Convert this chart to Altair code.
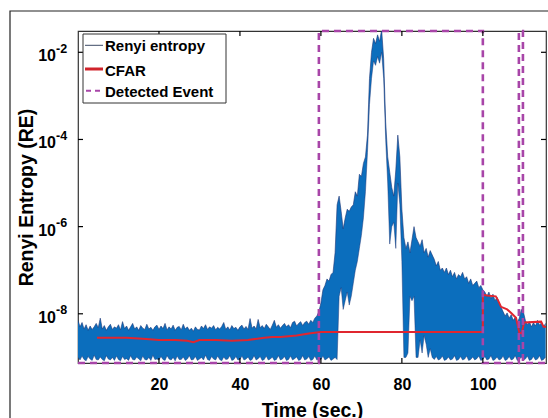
import altair as alt
import pandas as pd
import numpy as np

FONT = "Liberation Sans"

# ---------------- data ----------------
# Renyi entropy signal, sampled every 0.5 s: upper and lower envelope (log10 of RE)
upper_0_20 = [-8.15,-8.30,-8.20,-8.35,-8.25,-8.38,-8.28,-8.36,-8.30,-8.22,
              -8.32,-8.10,-8.35,-8.27,-8.38,-8.30,-8.24,-8.36,-8.30,-8.33,
              -8.25,-8.37,-8.18,-8.34,-8.28,-8.38,-8.30,-8.22,-8.35,-8.30,
              -8.38,-8.27,-8.33,-8.36,-8.24,-8.35,-8.31,-8.38,-8.30,-8.26]
upper_20_40 = [-8.36,-8.28,-8.34,-8.22,-8.37,-8.30,-8.35,-8.26,-8.38,-8.31,
               -8.29,-8.37,-8.24,-8.35,-8.30,-8.38,-8.33,-8.40,-8.30,-8.36,
               -8.37,-8.28,-8.34,-8.25,-8.36,-8.30,-8.33,-8.27,-8.37,-8.31,
               -8.35,-8.29,-8.20,-8.36,-8.30,-8.37,-8.27,-8.34,-8.31,-8.38]
upper_40_60 = [-8.30,-8.26,-8.35,-8.29,-8.36,-8.11,-8.33,-8.28,-8.35,-8.13,
               -8.32,-8.27,-8.34,-8.24,-8.30,-8.36,-8.26,-8.15,-8.31,-8.25,
               -8.33,-8.27,-8.22,-8.30,-8.25,-8.32,-8.20,-8.17,-8.28,-8.22,
               -8.18,-8.27,-8.20,-8.17,-8.24,-8.15,-8.20,-8.10,-8.05,-7.95]
upper_60_80 = [-7.75,-7.45,-7.35,-7.20,-7.25,-7.10,-7.05,-6.60,-5.50,-5.30,
               -5.65,-6.05,-5.80,-5.60,-5.65,-5.55,-5.50,-5.20,-5.30,-4.80,
               -4.85,-4.55,-4.40,-3.90,-2.60,-2.00,-1.68,-1.80,-1.60,-1.75,
               -1.48,-2.15,-3.60,-4.40,-4.75,-5.10,-5.30,-4.70,-3.90,-4.40]
upper_80_100 = [-5.60,-6.25,-6.50,-6.35,-6.60,-6.30,-6.00,-6.25,-6.35,-6.45,
                -6.30,-6.60,-6.50,-6.70,-6.55,-6.65,-6.75,-6.90,-6.80,-7.00,
                -6.95,-7.05,-6.95,-7.10,-7.00,-7.15,-7.05,-7.20,-7.10,-7.15,
                -7.05,-7.20,-7.15,-7.30,-7.20,-7.35,-7.30,-7.25,-7.40,-7.35]
upper_100_116 = [-7.45,-7.50,-7.60,-7.50,-7.65,-7.55,-7.70,-7.62,-7.75,-7.85,
                 -7.95,-8.05,-7.98,-8.10,-8.02,-8.15,-8.08,-8.20,-8.10,-7.90,
                 -7.95,-8.15,-8.25,-8.18,-8.30,-8.20,-8.28,-8.15,-8.26,-8.20,
                 -8.30,-8.22]

lower_0_20 = [-9.00,-9.06,-8.97,-9.05,-9.08,-8.98,-9.04,-9.07,-8.95,-9.05,
              -9.06,-8.99,-9.05,-9.08,-8.96,-9.04,-9.06,-9.00,-9.07,-8.97,
              -9.05,-9.08,-8.98,-9.05,-9.03,-9.07,-8.96,-9.05,-9.06,-8.99,
              -9.04,-9.08,-8.97,-9.05,-9.06,-9.00,-9.07,-8.95,-9.05,-9.04]
lower_20_40 = [-9.06,-8.98,-9.05,-9.07,-8.96,-9.04,-9.06,-9.00,-9.08,-8.97,
               -9.05,-9.05,-8.99,-9.07,-9.04,-8.96,-9.06,-9.05,-8.98,-9.07,
               -9.04,-9.00,-9.06,-8.95,-9.05,-9.07,-8.98,-9.04,-9.06,-8.97,
               -9.05,-9.08,-8.99,-9.05,-9.04,-8.96,-9.07,-9.05,-8.98,-9.06]
lower_40_60 = [-9.05,-8.97,-9.06,-9.04,-8.99,-9.07,-9.05,-8.96,-9.06,-9.03,
               -8.98,-9.07,-9.05,-8.97,-9.06,-9.04,-8.99,-9.07,-9.05,-8.96,
               -9.06,-9.04,-8.98,-9.07,-9.05,-8.97,-9.06,-9.03,-8.99,-9.07,
               -9.05,-8.96,-9.06,-9.04,-8.98,-9.07,-9.05,-8.97,-9.06,-9.04]
lower_60_80 = [-9.05,-8.97,-9.06,-9.03,-8.99,-9.07,-9.04,-9.00,-9.05,-7.60,
               -7.40,-7.90,-7.70,-7.50,-7.80,-7.60,-7.30,-7.00,-6.80,-6.50,
               -6.20,-5.80,-5.20,-4.30,-3.20,-2.60,-2.20,-2.30,-2.10,-2.25,
               -2.00,-2.60,-4.00,-5.00,-6.40,-6.00,-5.90,-6.50,-5.00,-5.50]
lower_80_100 = [-6.80,-9.00,-9.00,-8.90,-7.60,-7.70,-7.60,-9.00,-9.00,-8.60,
                -8.90,-8.50,-8.70,-9.00,-8.80,-9.00,-9.05,-8.98,-9.06,-9.04,
                -8.97,-9.07,-9.05,-8.99,-9.06,-9.04,-8.96,-9.07,-9.05,-8.98,
                -9.06,-9.04,-8.97,-9.07,-9.05,-8.99,-9.06,-9.03,-8.97,-9.07]
lower_100_116 = [-9.05,-8.98,-9.06,-9.04,-8.96,-9.07,-9.05,-8.99,-9.06,-9.04,
                 -8.97,-9.07,-9.05,-8.98,-9.06,-9.04,-8.96,-9.07,-9.05,-8.99,
                 -9.06,-9.04,-8.97,-9.07,-9.05,-8.98,-9.06,-9.04,-8.96,-9.07,
                 -9.05,-8.99]

# CFAR threshold (time in s, log10 of RE)
cfar_t = [4.7, 8, 12, 16, 20, 24, 27, 28.5, 30, 34, 38, 42, 46, 48, 50, 54, 57, 60,
          100, 100, 101, 103.2, 103.7, 104.5, 106, 107, 108.2, 109, 109.6, 110.2,
          114.4, 115, 115.6]
cfar_exp = [-8.55, -8.55, -8.55, -8.57, -8.60, -8.60, -8.62, -8.65, -8.60, -8.60,
            -8.62, -8.60, -8.55, -8.53, -8.53, -8.50, -8.45, -8.42,
            -8.42, -7.56, -7.58, -7.60, -7.68, -7.84, -7.90, -7.98, -8.09, -8.43,
            -8.45, -8.20, -8.18, -8.30, -8.30]

# Detected events (start, end in s)
event_start = [59.5, 108.9]
event_end = [100.0, 109.9]

x_ticks = [20, 40, 60, 80, 100]
y_tick_exp = [-8, -6, -4, -2]

X_MIN, X_MAX = 0.0, 115.6
Y_MIN, Y_MAX = 7.43e-10, 0.0308
W, H = 468, 332

# ---------------- tables ----------------
upper = upper_0_20 + upper_20_40 + upper_40_60 + upper_60_80 + upper_80_100 + upper_100_116
lower = lower_0_20 + lower_20_40 + lower_40_60 + lower_60_80 + lower_80_100 + lower_100_116
t_grid = [0.5 * i for i in range(len(upper))]
sig = pd.DataFrame({"t": t_grid,
                    "v": [10 ** u for u in upper],
                    "v2": [10 ** l for l in lower]})
cfar = pd.DataFrame({"t": cfar_t, "v": [10 ** e for e in cfar_exp],
                     "i": list(range(len(cfar_t)))})

ev_t, ev_v = [X_MIN], [Y_MIN]
for s, e in zip(event_start, event_end):
    ev_t += [s, s, e, e]
    ev_v += [Y_MIN, Y_MAX, Y_MAX, Y_MIN]
ev_t.append(X_MAX)
ev_v.append(Y_MIN)
events = pd.DataFrame({"t": ev_t, "v": ev_v, "i": list(range(len(ev_t)))})

xt = pd.DataFrame({"t": x_ticks})
yt = pd.DataFrame({"v": [10.0 ** e for e in y_tick_exp],
                   "sup": [str(e) for e in y_tick_exp]})
one = pd.DataFrame({"a": [0]})

# ---------------- scales / axes ----------------
xs = alt.Scale(domain=[X_MIN, X_MAX], nice=False, zero=False)
ys = alt.Scale(type="log", domain=[Y_MIN, Y_MAX], nice=False)
xaxis = alt.Axis(values=x_ticks, ticks=False, domain=False, grid=False,
                 labelFont=FONT, labelFontSize=16, labelFontWeight="bold",
                 labelColor="black", labelPadding=13,
                 title="Time (sec.)", titleFont=FONT, titleFontSize=19.5,
                 titleFontWeight="bold", titleColor="black",
                 titleY=38, titleBaseline="top")
yaxis = alt.Axis(labels=False, ticks=False, domain=False, grid=False,
                 title="Renyi Entropy (RE)", titleFont=FONT, titleFontSize=19.5,
                 titleFontWeight="bold", titleColor="black",
                 titleAngle=270, titleX=-52, titleY=H / 2,
                 titleBaseline="middle", titleAlign="center")
X = alt.X("t:Q", scale=xs, axis=xaxis)
Y = alt.Y("v:Q", scale=ys, axis=yaxis)

# ---------------- layers ----------------
frame = alt.Chart(one).mark_rect(fill="white", fillOpacity=0, stroke="#222",
                                 strokeWidth=1.2).encode(
    x=alt.value(-68), x2=alt.value(W + 40), y=alt.value(-20), y2=alt.value(H + 80))

band = alt.Chart(sig).mark_area(color="#0b6ebd", clip=True).encode(x=X, y=Y, y2="v2:Q")
edge_hi = alt.Chart(sig).mark_line(color="#1c3577", strokeWidth=0.8, opacity=0.75,
                                   clip=True).encode(x=X, y=Y)
edge_lo = alt.Chart(sig).mark_line(color="#1c3577", strokeWidth=0.8, opacity=0.6,
                                   clip=True).encode(x=X, y=alt.Y("v2:Q", scale=ys))

cfar_line = alt.Chart(cfar).mark_line(color="#e0262f", strokeWidth=2).encode(
    x=X, y=Y, order="i:Q")
ev_line = alt.Chart(events).mark_line(color="#a845a8", strokeWidth=2.6,
                                      strokeDash=[7, 5]).encode(x=X, y=Y, order="i:Q")

tick_b = alt.Chart(xt).mark_rule(color="black", strokeWidth=1.2).encode(
    x=X, y=alt.value(H), y2=alt.value(H - 5))
tick_t = alt.Chart(xt).mark_rule(color="black", strokeWidth=1.2).encode(
    x=X, y=alt.value(0), y2=alt.value(5))
tick_l = alt.Chart(yt).mark_rule(color="black", strokeWidth=1.2).encode(
    y=Y, x=alt.value(0), x2=alt.value(5))
tick_r = alt.Chart(yt).mark_rule(color="black", strokeWidth=1.2).encode(
    y=Y, x=alt.value(W - 5), x2=alt.value(W))

lab_base = alt.Chart(yt).mark_text(font=FONT, fontSize=16, fontWeight="bold",
                                   align="right", baseline="middle", dy=4,
                                   color="black").encode(
    y=Y, x=alt.value(-22), text=alt.value("10"))
lab_sup = alt.Chart(yt).mark_text(font=FONT, fontSize=12.5, fontWeight="bold",
                                  align="left", baseline="middle", dy=-3.5,
                                  color="black").encode(
    y=Y, x=alt.value(-22), text="sup:N")

# legend (drawn by hand, MATLAB style)
leg_box = alt.Chart(one).mark_rect(fill="white", stroke="#333", strokeWidth=1).encode(
    x=alt.value(5), x2=alt.value(148), y=alt.value(3), y2=alt.value(72))
leg_l1 = alt.Chart(one).mark_rule(color="#3d4a66", strokeWidth=1).encode(
    x=alt.value(7), x2=alt.value(25), y=alt.value(14.3))
leg_l2 = alt.Chart(one).mark_rule(color="#d0232b", strokeWidth=3).encode(
    x=alt.value(7), x2=alt.value(25), y=alt.value(38))
leg_l3 = alt.Chart(one).mark_rule(color="#a845a8", strokeWidth=2,
                                  strokeDash=[5, 4]).encode(
    x=alt.value(8), x2=alt.value(23), y=alt.value(59.7))
leg_names = ["Renyi entropy", "CFAR", "Detected Event"]
leg_y = [15.2, 39.5, 61.2]
leg_txt = [alt.Chart(one).mark_text(font=FONT, fontSize=15, fontWeight="bold",
                                    align="left", baseline="middle",
                                    color="black").encode(
    x=alt.value(27), y=alt.value(yy), text=alt.value(nm))
    for nm, yy in zip(leg_names, leg_y)]

chart = alt.layer(
    frame, band, edge_hi, edge_lo, cfar_line, ev_line,
    tick_b, tick_t, tick_l, tick_r, lab_base, lab_sup,
    leg_box, leg_l1, leg_l2, leg_l3, *leg_txt
).properties(
    width=W, height=H,
    autosize=alt.AutoSizeParams(type="none"),
    padding={"left": 78, "top": 31, "right": 2, "bottom": 55},
    background="white",
).configure_view(stroke="#333", strokeWidth=1.2)

chart.save("out.html", embed_options={"renderer": "svg", "actions": False})
